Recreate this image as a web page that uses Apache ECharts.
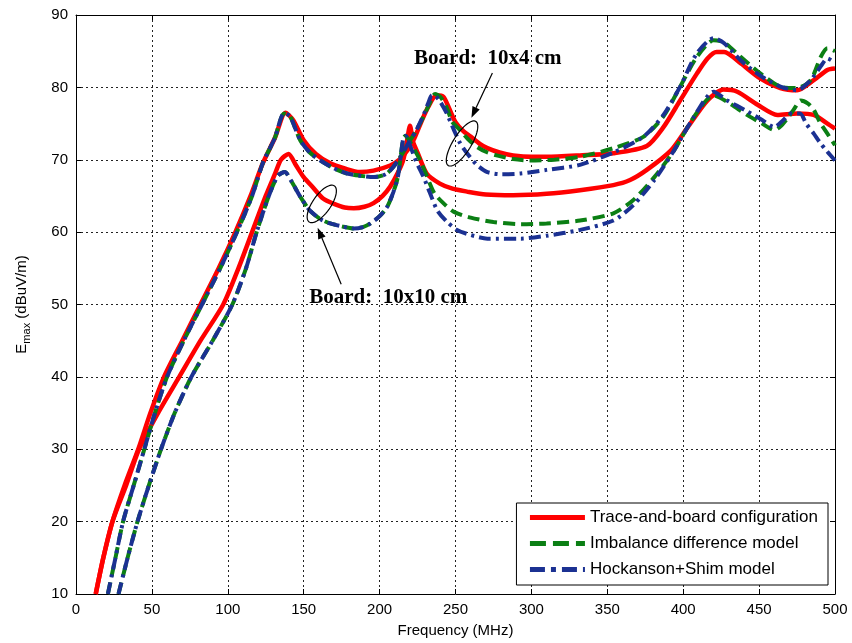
<!DOCTYPE html>
<html>
<head>
<meta charset="utf-8">
<script src="https://cdn.jsdelivr.net/npm/echarts@6/dist/echarts.min.js"></script>
<style>
html,body{margin:0;padding:0;background:#fff;}
#chart{width:852px;height:643px;}
</style>
</head>
<body>
<div id="chart"></div>
<script>
// ---- Data (frequency MHz, Emax dBuV/m) ----
const xTicks = [0, 50, 100, 150, 200, 250, 300, 350, 400, 450, 500];
const yTicks = [10, 20, 30, 40, 50, 60, 70, 80, 90];
const seriesNames = ['Trace-and-board configuration', 'Imbalance difference model', 'Hockanson+Shim model'];

// Board 10x4 cm
const traceBoard10x4 = [[13,10],[18,15],[24,20],[32,25],[41,30],[49,35],[58,40],[70,45],[82,50],[94,55],[105,60],[115,65],[123,69.5],[131,73],[138,76.5],[143,75.5],[150,72.7],[158,70.8],[167.5,69.5],[177,68.8],[187,68.3],[196,68.5],[207,69.2],[213,70],[219,71.5],[223,73],[227,75],[232,77.3],[237.5,78.9],[242,78.7],[246,77],[250,75.2],[255,74],[260,73.2],[266,72.2],[271,71.6],[279,71],[288,70.6],[300,70.4],[310,70.4],[332,70.6],[354,70.9],[376,71.9],[387,74.5],[398,78.2],[409,81.9],[416,84],[422,84.9],[427,84.9],[438,83.3],[451,81.2],[464,79.9],[475,79.6],[486,81],[495,82.4],[500,82.6]];
const imbalance10x4 = [[21,10],[26,15],[31,20],[38,25],[45,30],[52,35],[60,40],[71,45],[83,50],[95,55],[106,60],[116,65],[123,69.5],[131,73],[137,76.4],[141,76],[147.7,72.7],[154,71],[161,69.9],[170,68.8],[178.5,68.1],[187,67.8],[196,67.6],[204,68],[209,69],[214,70.5],[219,72.3],[224,74],[229,76],[233,77.8],[236.5,79.1],[240,78.7],[244,77.3],[248,75.2],[253,74.1],[258,72.9],[264,71.8],[270,71.1],[277,70.6],[288,70.1],[299,69.9],[315,70],[332,70.4],[354,71.6],[374,73.2],[387,76],[398,80.1],[409,84.2],[420,86.5],[427,86.2],[438,84.2],[451,81.9],[464,80.1],[475,79.9],[484,81],[490.6,84.2],[495,85.4],[500,85]];
const hockanson10x4 = [[21,10],[26,15],[31,20],[38,25],[45,30],[52,35],[60,40],[71,45],[83,50],[95,55],[106,60],[116,65],[123,69.5],[131,73],[137,76.4],[141,76],[147.7,72.7],[154,71],[161,69.9],[170,68.8],[178.5,68.1],[187,67.8],[196,67.6],[204,68],[209,69],[214,70.5],[219,72.3],[224,74],[229,76.2],[232,77.8],[234.5,78.9],[237,78.8],[240,78],[244,76.5],[249,74.1],[253,72.3],[257.6,70.9],[264,69.3],[271,68.3],[280,68],[293,68.1],[310,68.6],[332,69.3],[354,71],[374,73.2],[387,76.2],[398,80.1],[409,84.7],[420,86.8],[427,86.1],[438,83.7],[451,81.6],[464,80.1],[475,79.6],[484,81],[490.6,82.9],[495,84],[500,83.4]];

// Board 10x10 cm
const traceBoard10x10 = [[13,10],[18,15],[24,20],[33,25],[41.5,30],[54,35],[68,40],[82,45],[97,50],[107,55],[116,60],[125,65],[131,68],[135,70],[140,70.8],[145,69.2],[150,67.6],[156,66.2],[163,64.6],[170,63.9],[177,63.4],[183,63.3],[190,63.5],[196,64],[202,65],[207,66.3],[212,68.2],[215.6,70],[218,72.5],[220,74.7],[222,72.5],[225,71],[231,68.1],[239.7,66.7],[248,66],[257.6,65.6],[270,65.2],[288,65.1],[310,65.3],[332,65.8],[354,66.5],[365,67.2],[376,68.6],[392,71.3],[403,74.5],[416,78.2],[426.6,79.7],[435.6,79.4],[449,77.6],[462,76.2],[475,76.4],[486,76.2],[495,75],[500,74.3]];
const imbalance10x10 = [[28,10],[34,15],[40.5,20],[48,25],[56,30],[65,35],[76,40],[90,45],[103,50],[112,55],[119,60],[127,65],[133,67.8],[137.5,68.3],[142,67],[148,64.8],[154,63],[161,61.8],[167.5,61.2],[175,60.8],[183,60.5],[189,60.7],[194,61.2],[200,62.2],[205,63.5],[209,65.5],[212,67.6],[215.6,73],[217,73.3],[220,72.5],[224,71],[227,69.8],[231,67.8],[236,65.4],[242,64],[249,62.8],[260,62],[275,61.4],[293,61.1],[310,61.2],[332,61.6],[354,62.6],[367,64.4],[381,67.6],[394,71.3],[407,75.9],[420,78.9],[429,78],[442,76.2],[452,75],[460,74.1],[464,74.6],[468.6,75.7],[473,77],[477.4,78.2],[482,77.8],[486,76.9],[490,75.2],[495,73.6],[500,72]];
const hockanson10x10 = [[28,10],[34,15],[40.5,20],[48,25],[56,30],[65,35],[76,40],[90,45],[103,50],[112,55],[119,60],[127,65],[133,67.8],[137.5,68.3],[142,67],[148,64.8],[154,63],[161,61.8],[167.5,61.2],[175,60.8],[183,60.5],[189,60.7],[194,61.2],[200,62.2],[205,63.5],[209,65.5],[212,67.6],[215.6,73],[217,73.3],[220,72],[224,69.8],[229,67.6],[233,65.5],[238,63],[244,61.5],[251,60.3],[260,59.6],[271,59.1],[293,59.1],[310,59.5],[332,60.3],[354,61.6],[367,63.7],[381,67.2],[394,71.3],[407,75.9],[420,79.4],[429,78.2],[442,76.7],[452,75.5],[460,74.5],[466,75.5],[471,76.4],[477,76.4],[481,75],[486,73.6],[490,72.4],[495,71.1],[500,69.9]];

// Annotation anchors (data coordinates)
const annot10x4 = {text: 'Board:  10x4 cm', textAt: [271.3, 84.0], arrowFrom: [274.3, 82.0], arrowTo: [260.5, 75.8], ellipseAt: [254.3, 72.25]};
const annot10x10 = {text: 'Board:  10x10 cm', textAt: [205.7, 51.0], arrowFrom: [174.7, 52.8], arrowTo: [159.2, 60.6], ellipseAt: [161.9, 63.9]};

const RED = '#ff0000', GREEN = '#0b7f14', BLUE = '#1b3192';
const styles = [
  {color: RED, width: 4.5, type: 'solid'},
  {color: GREEN, width: 4, type: [12, 6]},
  {color: BLUE, width: 4, type: [12, 5, 3, 5]}
];

function mkSeries(name, data, st) {
  return {
    name: name, type: 'line', data: data, showSymbol: false, symbol: 'none',
    smooth: 0.25, animation: false,
    lineStyle: {color: st.color, width: st.width, type: st.type},
    itemStyle: {color: st.color}
  };
}

const FONT = '"Liberation Sans", Arial, sans-serif';
const chart = echarts.init(document.getElementById('chart'), null, {renderer: 'canvas'});

const axisCommon = {
  axisLine: {show: true, onZero: false, lineStyle: {color: '#000', width: 1}},
  axisTick: {show: true, inside: true, length: 5, lineStyle: {color: '#000'}},
};

const legendData = seriesNames.map((n, i) => ({
  name: n,
  itemStyle: {opacity: 0},
  lineStyle: {color: styles[i].color, width: 5, type: i === 0 ? 'solid' : (i === 1 ? [16, 7] : [15, 6, 5, 6]), opacity: 1}
}));

const option = {
  animation: false,
  backgroundColor: '#fff',
  grid: {left: 76, right: 17, top: 15, bottom: 49, containLabel: false},
  xAxis: [
    Object.assign({
      type: 'value', min: 0, max: 500, interval: 50, position: 'bottom',
      name: 'Frequency (MHz)', nameLocation: 'middle', nameGap: 29,
      nameTextStyle: {fontFamily: FONT, fontSize: 15, color: '#000'},
      axisLabel: {fontFamily: FONT, fontSize: 15, color: '#000', margin: 8,
        formatter: v => xTicks.includes(v) ? String(v) : ''},
      splitLine: {show: true, lineStyle: {color: '#222', width: 1, type: [2, 3]}}
    }, axisCommon),
    Object.assign({
      type: 'value', min: 0, max: 500, interval: 50, position: 'top',
      axisLabel: {show: false}, splitLine: {show: false}
    }, axisCommon)
  ],
  yAxis: [
    Object.assign({
      type: 'value', min: 10, max: 90, interval: 10, position: 'left',
      name: '{e|E}{s|max}{e| (dBuV/m)}', nameLocation: 'middle', nameGap: 44, nameRotate: 90,
      nameTextStyle: {fontFamily: FONT, fontSize: 15, color: '#000',
        rich: {
          e: {fontFamily: FONT, fontSize: 15, color: '#000', lineHeight: 20, verticalAlign: 'middle'},
          s: {fontFamily: FONT, fontSize: 11, color: '#000', lineHeight: 20, verticalAlign: 'bottom'}
        }},
      axisLabel: {fontFamily: FONT, fontSize: 15, color: '#000', margin: 8,
        formatter: v => yTicks.includes(v) ? String(v) : ''},
      splitLine: {show: true, lineStyle: {color: '#222', width: 1, type: [2, 3]}}
    }, axisCommon),
    Object.assign({
      type: 'value', min: 10, max: 90, interval: 10, position: 'right',
      axisLabel: {show: false}, splitLine: {show: false}
    }, axisCommon)
  ],
  legend: {
    show: true, orient: 'vertical', right: 24, top: 503,
    data: legendData,
    backgroundColor: '#fff', borderColor: '#000', borderWidth: 1,
    padding: [6, 10, 7, 11], itemGap: 9, itemWidth: 55, itemHeight: 14,
    textStyle: {fontFamily: FONT, fontSize: 17, color: '#000', lineHeight: 17},
    selectedMode: false
  },
  series: [
    mkSeries(seriesNames[0], traceBoard10x4, styles[0]),
    mkSeries(seriesNames[0], traceBoard10x10, styles[0]),
    mkSeries(seriesNames[1], imbalance10x4, styles[1]),
    mkSeries(seriesNames[1], imbalance10x10, styles[1]),
    mkSeries(seriesNames[2], hockanson10x4, styles[2]),
    mkSeries(seriesNames[2], hockanson10x10, styles[2])
  ]
};
chart.setOption(option);

function px(p) { return chart.convertToPixel({xAxisIndex: 0, yAxisIndex: 0}, p); }
function ellipsePoints(c, a, b, deg) {
  const th = deg * Math.PI / 180;
  const ux = Math.cos(th), uy = -Math.sin(th);
  const vx = Math.sin(th), vy = Math.cos(th);
  const pts = [];
  for (let i = 0; i < 72; i++) {
    const t = i / 72 * Math.PI * 2;
    pts.push([c[0] + a * Math.cos(t) * ux + b * Math.sin(t) * vx,
              c[1] + a * Math.cos(t) * uy + b * Math.sin(t) * vy]);
  }
  return pts;
}
function arrow(from, to) {
  const dx = to[0] - from[0], dy = to[1] - from[1];
  const L = Math.sqrt(dx * dx + dy * dy);
  const ux = dx / L, uy = dy / L;
  const hl = 11, hw = 4;
  const base = [to[0] - ux * hl, to[1] - uy * hl];
  return [
    {type: 'line', shape: {x1: from[0], y1: from[1], x2: base[0], y2: base[1]}, style: {stroke: '#000', lineWidth: 1.2}, z: 100},
    {type: 'polygon', shape: {points: [to, [base[0] - uy * hw, base[1] + ux * hw], [base[0] + uy * hw, base[1] - ux * hw]]}, style: {fill: '#000'}, z: 100}
  ];
}
function annotation(an, a, b, deg) {
  const t = px(an.textAt);
  const els = [
    {type: 'text', x: t[0], y: t[1], z: 100,
     style: {text: an.text, font: 'bold 21px "Liberation Serif", "Times New Roman", serif', fill: '#000', align: 'center', verticalAlign: 'middle'}},
    {type: 'polygon', shape: {points: ellipsePoints(px(an.ellipseAt), a, b, deg)}, style: {fill: 'none', stroke: '#000', lineWidth: 1.2}, z: 100}
  ];
  return els.concat(arrow(px(an.arrowFrom), px(an.arrowTo)));
}
chart.setOption({graphic: annotation(annot10x4, 26, 9, 58).concat(annotation(annot10x10, 22, 9, 55))});
</script>
</body>
</html>
